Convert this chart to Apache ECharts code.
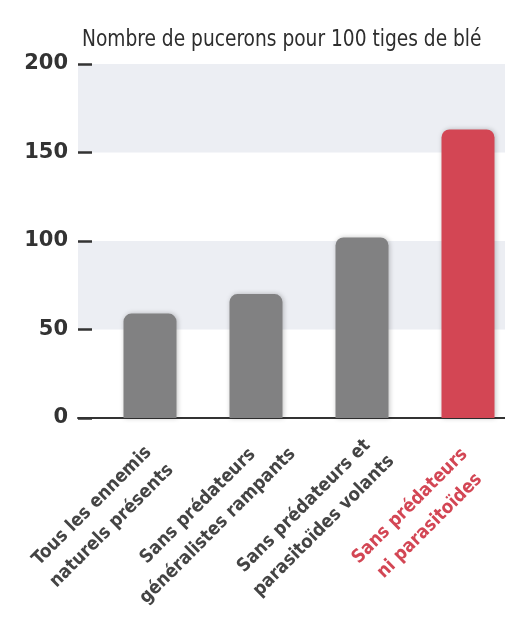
<!DOCTYPE html>
<html>
<head>
<meta charset="utf-8">
<script src="https://cdn.jsdelivr.net/npm/echarts@6/dist/echarts.min.js"></script>
<style>
  html, body { margin: 0; padding: 0; background: #ffffff; }
  #chart { width: 505px; height: 618px; }
</style>
</head>
<body>
<div id="chart"></div>
<script>
const titleText = 'Nombre de pucerons pour 100 tiges de blé';
const categories = [
  'Tous les ennemis\nnaturels présents',
  'Sans prédateurs\ngénéralistes rampants',
  'Sans prédateurs et\nparasitoïdes volants',
  'Sans prédateurs\nni parasitoïdes'
];
const values = [59, 70, 102, 163];
const highlightIndex = 3;
const yTicks = [0, 50, 100, 150, 200];

const GRAY = '#818182';
const RED = '#d34654';
const TEXT = '#333333';
const FONT = "'DejaVu Sans', sans-serif";
const COND = "'DejaVu Sans Condensed', 'DejaVu Sans', sans-serif";

const chart = echarts.init(document.getElementById('chart'), null, { renderer: 'canvas' });

const option = {
  backgroundColor: '#ffffff',
  animation: false,
  graphic: [
    {
      type: 'text',
      x: 82, y: 29,
      scaleX: 0.9,
      style: { text: titleText, fontFamily: COND, fontSize: 23, fill: '#2e2e2e', verticalAlign: 'top' }
    }
  ],
  grid: [
    { left: 78, right: 0, top: 64, bottom: 200, containLabel: false, outerBoundsMode: 'none' },
    { left: 97, right: -16, top: 64, bottom: 200, containLabel: false, outerBoundsMode: 'none' }
  ],
  xAxis: [
    {
      gridIndex: 0, type: 'category', data: [''],
      axisLine: { show: true, lineStyle: { color: '#333333', width: 2 } },
      axisTick: { show: false }, axisLabel: { show: false }
    },
    {
      gridIndex: 1, type: 'category', data: categories,
      axisLine: { show: false }, axisTick: { show: false },
      axisLabel: {
        interval: 0,
        rotate: 45,
        align: 'center',
        verticalAlign: 'middle',
        margin: 50,
        padding: [0, 136, 0, 0],
        hideOverlap: false,
        formatter: function (v, i) {
          const key = i === highlightIndex ? 'r' : 'g';
          return v.split('\n').map(function (l) { return '{' + key + '|' + l + '}'; }).join('\n');
        },
        rich: {
          g: { align: 'center', color: '#444444', fontFamily: COND, fontSize: 18.5, fontWeight: 'bold', lineHeight: 28 },
          r: { align: 'center', color: RED, fontFamily: COND, fontSize: 18.5, fontWeight: 'bold', lineHeight: 28 }
        }
      }
    }
  ],
  yAxis: [
    {
      gridIndex: 0, type: 'value', min: 0, max: 200, interval: 50,
      axisLine: { show: false },
      axisTick: { show: true, inside: true, length: 14, lineStyle: { color: '#333333', width: 2.5 } },
      axisLabel: {
        margin: 10, color: TEXT, fontSize: 21, fontWeight: 'bold', fontFamily: FONT,
        formatter: function (v) { return yTicks.indexOf(v) >= 0 ? String(v) : ''; }
      },
      splitLine: { show: false },
      splitArea: { show: true, areaStyle: { color: ['rgba(255,255,255,0)', '#eceef3'] } }
    },
    {
      gridIndex: 1, type: 'value', min: 0, max: 200, interval: 50, show: false,
      splitLine: { show: false }
    }
  ],
  series: [
    {
      type: 'bar',
      xAxisIndex: 1, yAxisIndex: 1,
      data: values,
      barWidth: 53,
      z: 3,
      itemStyle: {
        color: function (p) { return p.dataIndex === highlightIndex ? RED : GRAY; },
        borderRadius: [8, 8, 0, 0],
        shadowBlur: 5,
        shadowColor: 'rgba(0,0,0,0.25)',
        shadowOffsetX: 1
      }
    }
  ]
};

chart.setOption(option);
</script>
</body>
</html>
